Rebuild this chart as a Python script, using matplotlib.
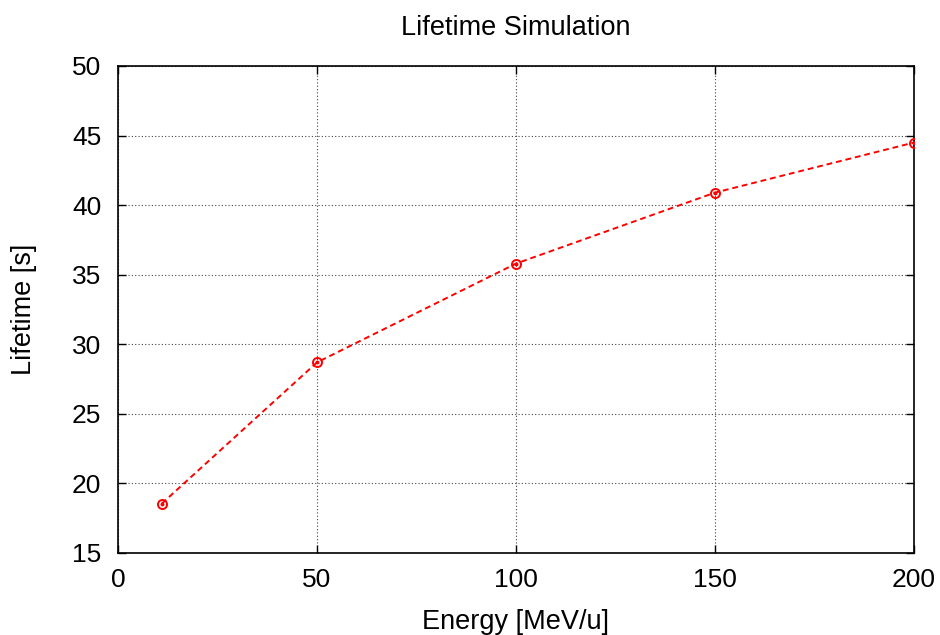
import matplotlib
matplotlib.use("Agg")
import matplotlib.pyplot as plt

plt.rcParams['font.family'] = ['Liberation Sans', 'DejaVu Sans']

energy = [11, 50, 100, 150, 200]
lifetime = [18.55, 28.7, 35.8, 40.9, 44.5]
x_ticks = [0, 50, 100, 150, 200]
y_ticks = [15, 20, 25, 30, 35, 40, 45, 50]

fig = plt.figure(figsize=(9.4, 6.35), dpi=100)
ax = fig.add_axes([118 / 940, 1 - 553 / 635, 796 / 940, 487 / 635])

ax.plot(energy, lifetime, color='red', linestyle=(0, (3, 2)), linewidth=1.4,
        marker='o', markersize=6.5, markerfacecolor='none', markeredgecolor='red',
        markeredgewidth=1.4, zorder=3)
ax.plot(energy, lifetime, linestyle='none', marker='o', markersize=1.8,
        color='red', zorder=4)

ax.set_xlim(0, 200)
ax.set_ylim(15, 50)
ax.set_xticks(x_ticks)
ax.set_yticks(y_ticks)
ax.tick_params(direction='in', length=6, width=1, top=True, right=True,
               labelsize=19)
ax.tick_params(axis='x', pad=11)
ax.tick_params(axis='y', pad=12)
ax.grid(True, color='#444444', linestyle=(0, (1, 2)), linewidth=0.8)
for s in ax.spines.values():
    s.set_linewidth(1.2)

ax.set_title('Lifetime Simulation', fontsize=19.5, pad=22)
ax.set_xlabel('Energy [MeV/u]', fontsize=19.5, labelpad=12)
ax.set_ylabel('Lifetime [s]', fontsize=19.5, labelpad=25)

fig.savefig('out.png', dpi=100)
